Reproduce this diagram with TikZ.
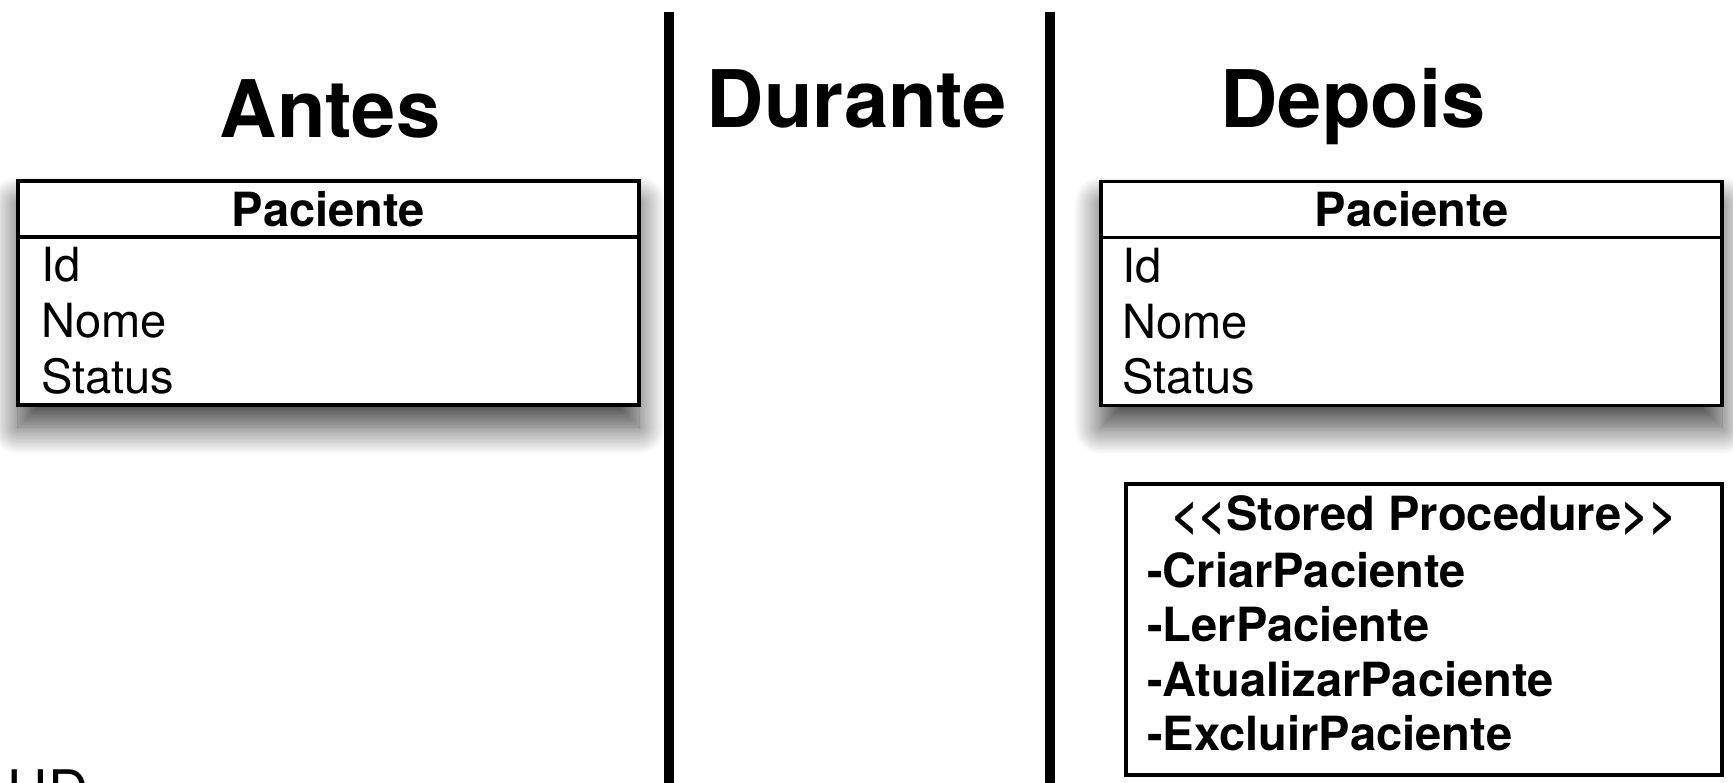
\documentclass[tikz,border=0pt]{standalone}
\usepackage{fontspec}
\newfontfamily\helv{TeX Gyre Heros}
\usetikzlibrary{positioning,shadows.blur}

\begin{document}
\begin{tikzpicture}[font=\helv,
    head/.style={font=\helv\bfseries\fontsize{22.6}{27}\selectfont,
                 anchor=base, inner sep=0pt},
    umlbox/.style={draw, line width=0.9pt, fill=white,
                   minimum width=6.21cm, minimum height=2.24cm, inner sep=0pt,
                   blur shadow={shadow xshift=0cm, shadow yshift=-0.22cm,
                                shadow blur radius=0.27cm, shadow blur steps=20,
                                shadow opacity=75}},
    hdr/.style={draw, line width=0.9pt, anchor=north,
                minimum width=6.21cm, minimum height=0.56cm, inner sep=0pt,
                font=\helv\bfseries\fontsize{13.4}{16}\selectfont},
    attr/.style={align=left, inner sep=0pt,
                 font=\helv\fontsize{13.4}{15.9}\selectfont},
    proc/.style={align=left, inner sep=0pt,
                 font=\helv\bfseries\fontsize{13.4}{15.5}\selectfont},
    sepline/.style={line width=2.8pt}]

  \useasboundingbox (0,0) rectangle (17.33,-7.82);
  \clip (0,0) rectangle (17.33,-7.82);

  %% ── Column headings ─────────────────────────────────────────
  \node[head] (antes)   at (3.30,-1.37)  {Antes};
  \node[head] (durante) at (8.57,-1.27)  {Durante};
  \node[head] (depois)  at (13.53,-1.27) {Depois};

  %% ── Column separators ───────────────────────────────────────
  \coordinate (sepA) at (6.69,-0.12);
  \coordinate (sepB) at (10.50,-0.12);
  \draw[sepline] (sepA) -- ++(0,-7.9);
  \draw[sepline] (sepB) -- ++(0,-7.9);

  %% ── Antes: table ────────────────────────────────────────────
  \node[umlbox] (pacA) at (3.285,-2.93) {};
  \node[hdr] (pacAhdr) at (pacA.north) {Paciente};
  \node[attr, below right=0.08cm and 0.24cm of pacAhdr.south west] (pacAatt)
    {Id\\Nome\\Status};

  %% ── Depois: table ───────────────────────────────────────────
  \node[umlbox] (pacD) at (14.115,-2.935) {};
  \node[hdr] (pacDhdr) at (pacD.north) {Paciente};
  \node[attr, below right=0.08cm and 0.22cm of pacDhdr.south west] (pacDatt)
    {Id\\Nome\\Status};

  %% ── Depois: stored procedures ───────────────────────────────
  \node[draw, line width=0.9pt, minimum width=5.96cm, minimum height=2.91cm,
        inner sep=0pt] (spBox) at (14.24,-6.295) {};
  \node[proc, anchor=base] (spTitle) at ([yshift=-0.48cm]spBox.north)
    {<<Stored Procedure>>};
  \node[proc, anchor=north west] (spList)
    at ([xshift=0.22cm, yshift=-0.69cm]spBox.north west)
    {-CriarPaciente\\-LerPaciente\\-AtualizarPaciente\\-ExcluirPaciente};

  %% cut-off label, bottom left
  \node[font=\helv\fontsize{15.9}{18}\selectfont, anchor=base west,
        inner sep=0pt] (hd) at (0.07,-8.10) {HD};

\end{tikzpicture}
\end{document}
